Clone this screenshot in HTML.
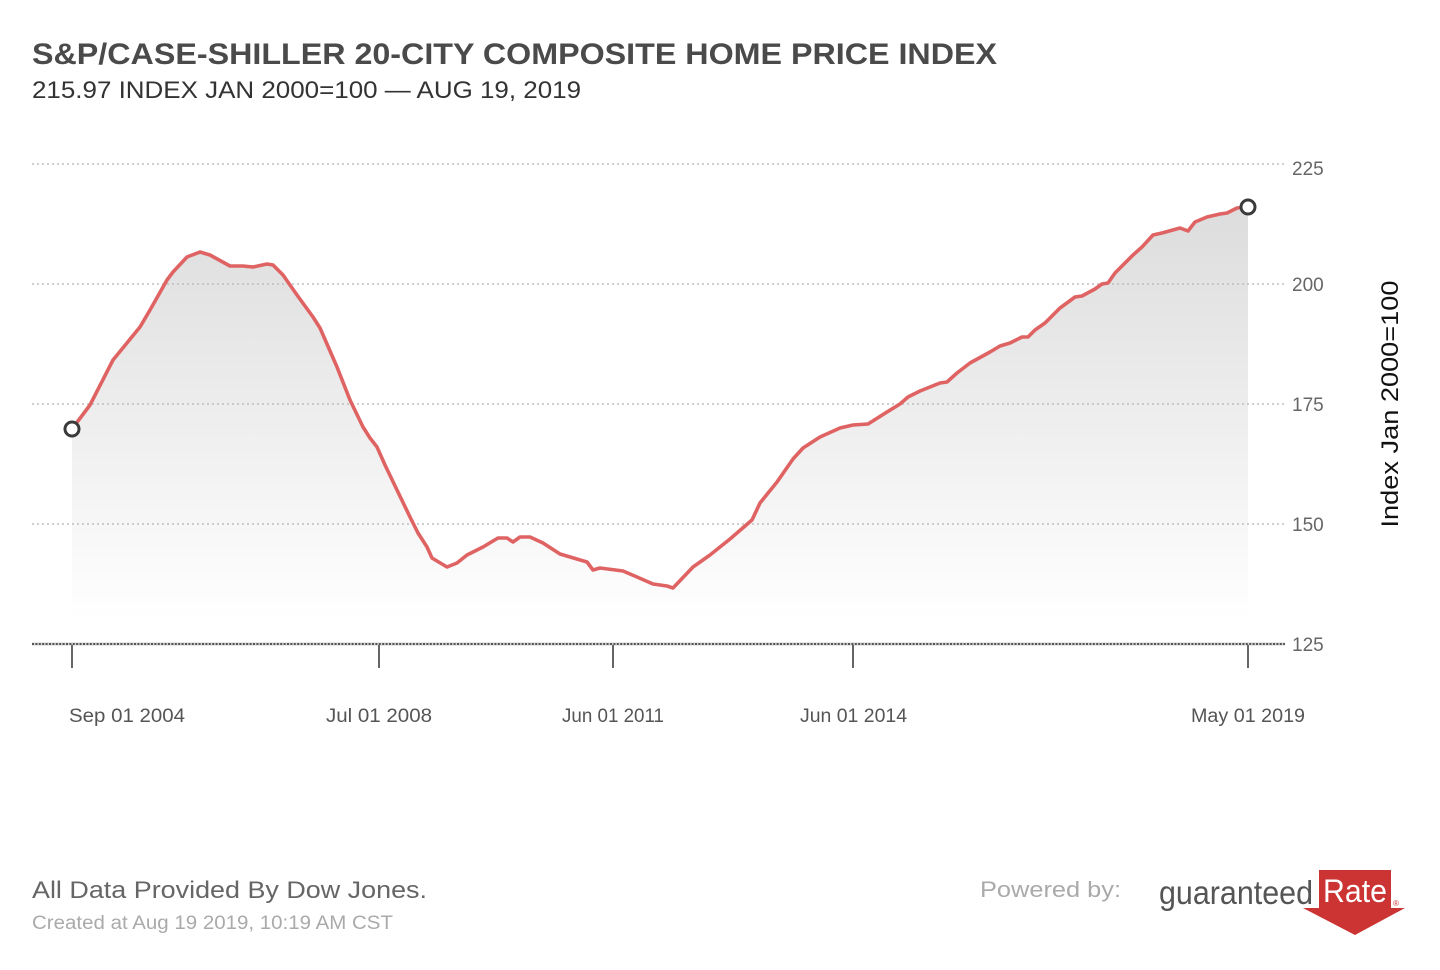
<!DOCTYPE html>
<html>
<head>
<meta charset="utf-8">
<style>
  html,body{margin:0;padding:0;background:#fff;}
  svg{display:block;}
  text{font-family:"Liberation Sans",sans-serif;}
</style>
</head>
<body>
<svg width="1440" height="970" viewBox="0 0 1440 970" xmlns="http://www.w3.org/2000/svg">
  <defs>
    <linearGradient id="fillg" gradientUnits="userSpaceOnUse" x1="0" y1="164" x2="0" y2="622">
      <stop offset="0" stop-color="#d9d9d9"/>
      <stop offset="0.85" stop-color="#f9f9f9"/>
      <stop offset="1" stop-color="#ffffff"/>
    </linearGradient>
  </defs>
  <rect width="1440" height="970" fill="#fff"/>

  <!-- Title -->
  <text x="32" y="64" font-size="30" font-weight="bold" fill="#4a4a4a" textLength="965" lengthAdjust="spacingAndGlyphs">S&amp;P/CASE-SHILLER 20-CITY COMPOSITE HOME PRICE INDEX</text>
  <text x="32" y="98" font-size="24" fill="#333" textLength="549" lengthAdjust="spacingAndGlyphs">215.97 INDEX JAN 2000=100 — AUG 19, 2019</text>

  <!-- Fill -->
  <polygon fill="url(#fillg)" points="72,622 72,429 90,405 113,360 140,327 150,310 167,280 173,272 187,257 200,252 210,255 230,266 243,266 253,267 267,264 273,265 283,275 297,295 313,317 320,328 337,367 350,400 363,427 370,438 377,447 385,465 397,490 410,517 418,533 427,547 432,558 447,567 457,563 467,555 483,547 498,538 507,538 513,542 520,537 530,537 543,543 560,554 587,562 593,570 600,568 623,571 637,577 653,584 667,586 673,588 693,567 710,555 730,539 752,520 760,503 777,482 793,459 803,448 820,437 840,428 853,425 868,424 887,412 900,404 908,397 920,391 940,383 947,382 957,373 970,363 990,352 1000,346 1010,343 1022,337 1028,337 1035,330 1045,323 1060,308 1075,297 1082,296 1095,289 1102,284 1108,283 1115,273 1133,255 1142,247 1153,235 1162,233 1180,228 1188,231 1195,222 1207,217 1220,214 1227,213 1237,208 1248,207 1248,622"/>

  <!-- Gridlines -->
  <g stroke="#bdbdbd" stroke-width="1.6" stroke-dasharray="2 3">
    <line x1="32" y1="164" x2="1285" y2="164"/>
    <line x1="32" y1="284" x2="1285" y2="284"/>
    <line x1="32" y1="404" x2="1285" y2="404"/>
    <line x1="32" y1="524" x2="1285" y2="524"/>
  </g>
  <line x1="32" y1="644" x2="1285" y2="644" stroke="#d0d0d0" stroke-width="3"/>
  <line x1="32" y1="644" x2="1285" y2="644" stroke="#555" stroke-width="2" stroke-dasharray="2 1.4"/>

  <!-- Y labels -->
  <g font-size="19" fill="#666">
    <text x="1292" y="175">225</text>
    <text x="1292" y="291">200</text>
    <text x="1292" y="411">175</text>
    <text x="1292" y="531">150</text>
    <text x="1292" y="651">125</text>
  </g>
  <text transform="translate(1398,404) rotate(-90)" text-anchor="middle" font-size="24" fill="#111" textLength="247" lengthAdjust="spacingAndGlyphs">Index Jan 2000=100</text>

  <!-- X ticks -->
  <g stroke="#666" stroke-width="2">
    <line x1="72" y1="645" x2="72" y2="668"/>
    <line x1="379" y1="645" x2="379" y2="668"/>
    <line x1="613" y1="645" x2="613" y2="668"/>
    <line x1="853" y1="645" x2="853" y2="668"/>
    <line x1="1248" y1="645" x2="1248" y2="668"/>
  </g>
  <g font-size="19" fill="#555">
    <text x="69" y="722" textLength="116" lengthAdjust="spacingAndGlyphs">Sep 01 2004</text>
    <text x="326" y="722" textLength="106" lengthAdjust="spacingAndGlyphs">Jul 01 2008</text>
    <text x="562" y="722" textLength="102" lengthAdjust="spacingAndGlyphs">Jun 01 2011</text>
    <text x="800" y="722" textLength="107" lengthAdjust="spacingAndGlyphs">Jun 01 2014</text>
    <text x="1191" y="722" textLength="114" lengthAdjust="spacingAndGlyphs">May 01 2019</text>
  </g>

  <!-- Line -->
  <polyline fill="none" stroke="#e06363" stroke-width="3.6" stroke-linejoin="round" stroke-linecap="round" points="72,429 90,405 113,360 140,327 150,310 167,280 173,272 187,257 200,252 210,255 230,266 243,266 253,267 267,264 273,265 283,275 297,295 313,317 320,328 337,367 350,400 363,427 370,438 377,447 385,465 397,490 410,517 418,533 427,547 432,558 447,567 457,563 467,555 483,547 498,538 507,538 513,542 520,537 530,537 543,543 560,554 587,562 593,570 600,568 623,571 637,577 653,584 667,586 673,588 693,567 710,555 730,539 752,520 760,503 777,482 793,459 803,448 820,437 840,428 853,425 868,424 887,412 900,404 908,397 920,391 940,383 947,382 957,373 970,363 990,352 1000,346 1010,343 1022,337 1028,337 1035,330 1045,323 1060,308 1075,297 1082,296 1095,289 1102,284 1108,283 1115,273 1133,255 1142,247 1153,235 1162,233 1180,228 1188,231 1195,222 1207,217 1220,214 1227,213 1237,208 1248,207"/>

  <!-- End markers -->
  <circle cx="72" cy="429" r="7" fill="#fff" stroke="#3a3a3a" stroke-width="3"/>
  <circle cx="1248" cy="207" r="7" fill="#fff" stroke="#3a3a3a" stroke-width="3"/>

  <!-- Footer -->
  <text x="32" y="898" font-size="24" fill="#666" textLength="395" lengthAdjust="spacingAndGlyphs">All Data Provided By Dow Jones.</text>
  <text x="32" y="929" font-size="19" fill="#aaa" textLength="361" lengthAdjust="spacingAndGlyphs">Created at Aug 19 2019, 10:19 AM CST</text>
  <text x="980" y="897" font-size="22" fill="#aaa" textLength="141" lengthAdjust="spacingAndGlyphs">Powered by:</text>

  <!-- Logo -->
  <text x="1159" y="904" font-size="33" fill="#555" textLength="154" lengthAdjust="spacingAndGlyphs">guaranteed</text>
  <rect x="1319" y="870" width="72" height="39" fill="#cc3333"/>
  <polygon points="1303,908 1405,908 1355,935" fill="#cc3333"/>
  <text x="1323" y="902" font-size="32" fill="#fff" textLength="64" lengthAdjust="spacingAndGlyphs">Rate</text>
  <text x="1393" y="906" font-size="8" fill="#cc3333">®</text>
</svg>
</body>
</html>
